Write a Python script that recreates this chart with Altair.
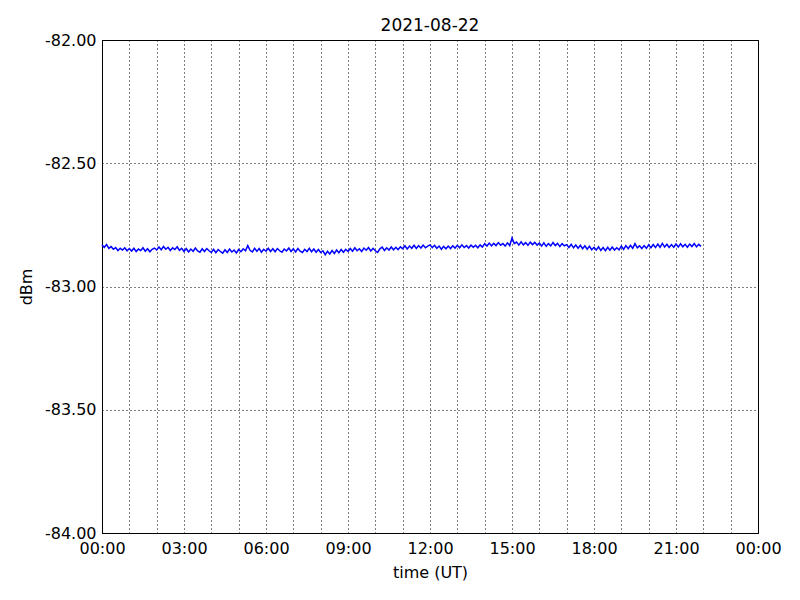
import altair as alt
import pandas as pd

title_text = "2021-08-22"
x_title = "time (UT)"
y_title = "dBm"

# signal level (dBm), one reading every 5 minutes starting 00:00 UT
dbm = [
    -82.832, -82.841, -82.830, -82.845, -82.838, -82.849, -82.842, -82.854, -82.845, -82.852, -82.843, -82.855,
    -82.846, -82.856, -82.845, -82.858, -82.848, -82.854, -82.843, -82.857, -82.847, -82.859, -82.849, -82.844,
    -82.852, -82.840, -82.851, -82.838, -82.849, -82.841, -82.854, -82.843, -82.850, -82.839, -82.853, -82.845,
    -82.858, -82.846, -82.860, -82.848, -82.857, -82.844, -82.856, -82.861, -82.847, -82.858, -82.846, -82.855,
    -82.862, -82.849, -82.863, -82.850, -82.858, -82.865, -82.851, -82.862, -82.848, -82.860, -82.852, -82.864,
    -82.850, -82.859, -82.847, -82.855, -82.834, -82.853, -82.860, -82.845, -82.857, -82.846, -82.861, -82.849,
    -82.857, -82.845, -82.858, -82.847, -82.859, -82.846, -82.855, -82.861, -82.848, -82.856, -82.844, -82.858,
    -82.847, -82.860, -82.846, -82.857, -82.862, -82.849, -82.858, -82.845, -82.859, -82.848, -82.861, -82.850,
    -82.862, -82.855, -82.871, -82.857, -82.868, -82.854, -82.866, -82.852, -82.863, -82.850, -82.861, -82.849,
    -82.858, -82.846, -82.857, -82.843, -82.855, -82.847, -82.858, -82.844, -82.853, -82.842, -82.856, -82.845,
    -82.855, -82.862, -82.847, -82.840, -82.854, -82.843, -82.852, -82.840, -82.851, -82.841, -82.850, -82.839,
    -82.847, -82.835, -82.848, -82.836, -82.845, -82.833, -82.846, -82.834, -82.844, -82.832, -82.843, -82.836,
    -82.831, -82.842, -82.833, -82.845, -82.836, -82.849, -82.837, -82.847, -82.836, -82.846, -82.835, -82.844,
    -82.833, -82.843, -82.831, -82.842, -82.834, -82.844, -82.832, -82.841, -82.833, -82.843, -82.831, -82.840,
    -82.826, -82.836, -82.824, -82.835, -82.825, -82.834, -82.822, -82.833, -82.826, -82.836, -82.823, -82.834,
    -82.803, -82.826, -82.820, -82.832, -82.819, -82.831, -82.822, -82.833, -82.820, -82.830, -82.821, -82.832,
    -82.824, -82.836, -82.823, -82.837, -82.826, -82.835, -82.822, -82.834, -82.825, -82.838, -82.826, -82.835,
    -82.830, -82.842, -82.829, -82.843, -82.832, -82.845, -82.833, -82.847, -82.835, -82.849, -82.837, -82.851,
    -82.841, -82.852, -82.839, -82.854, -82.842, -82.855, -82.841, -82.853, -82.840, -82.852, -82.843, -82.851,
    -82.836, -82.849, -82.834, -82.847, -82.833, -82.845, -82.826, -82.843, -82.835, -82.846, -82.834, -82.845,
    -82.831, -82.843, -82.830, -82.842, -82.828, -82.841, -82.825, -82.840, -82.829, -82.842, -82.830, -82.841,
    -82.828, -82.840, -82.827, -82.839, -82.829, -82.841, -82.828, -82.838, -82.826, -82.839, -82.829, -82.837,
]
step_minutes = 5
hours = [i * step_minutes / 60 for i in range(len(dbm))]

x_ticks = list(range(0, 25))
y_ticks = [-84.0, -83.5, -83.0, -82.5, -82.0]

df = pd.DataFrame({"hour": hours, "dbm": dbm})

font = "DejaVu Sans"
fs = 16

chart = (
    alt.Chart(df)
    .mark_line(color="#0000ff", strokeWidth=1.5)
    .encode(
        x=alt.X(
            "hour:Q",
            scale=alt.Scale(domain=[0, 24], nice=False, zero=False),
            axis=alt.Axis(
                title=x_title,
                values=x_ticks,
                labelExpr="datum.value % 3 == 0 ? ((datum.value % 24) < 10 ? '0' : '') + (datum.value % 24) + ':00' : ''",
                grid=True,
                gridColor="black",
                gridDash=[1, 3],
                gridWidth=1,
                gridOpacity=1,
                ticks=False,
                labelPadding=7,
                titlePadding=8,
                labelFlush=False,
                labelOverlap=False,
                labelFont=font,
                titleFont=font,
                labelFontSize=fs,
                titleFontSize=fs,
                titleFontWeight="normal",
                labelColor="black",
                titleColor="black",
                domainColor="black",
            ),
        ),
        y=alt.Y(
            "dbm:Q",
            scale=alt.Scale(domain=[-84, -82], nice=False, zero=False),
            axis=alt.Axis(
                title=y_title,
                values=y_ticks,
                labelExpr="replace(format(datum.value, '.2f'), '\u2212', '-')",
                grid=True,
                gridColor="black",
                gridDash=[1, 3],
                gridWidth=1,
                gridOpacity=1,
                ticks=False,
                labelPadding=6,
                titlePadding=10,
                labelFlush=False,
                labelOverlap=False,
                labelFont=font,
                titleFont=font,
                labelFontSize=fs,
                titleFontSize=fs,
                titleFontWeight="normal",
                labelColor="black",
                titleColor="black",
                domainColor="black",
            ),
        ),
    )
    .properties(
        width=656,
        height=493,
        background="white",
        title=alt.TitleParams(title_text, fontSize=17, font=font, fontWeight="normal", offset=-3, color="black"),
        autosize=alt.AutoSizeParams(type="none"),
        padding={"left": 94, "top": 32, "right": 30, "bottom": 60},
    )
    .configure_view(stroke="black", strokeWidth=1)
)

chart.save("out.html", embed_options={"renderer": "svg", "actions": False})
